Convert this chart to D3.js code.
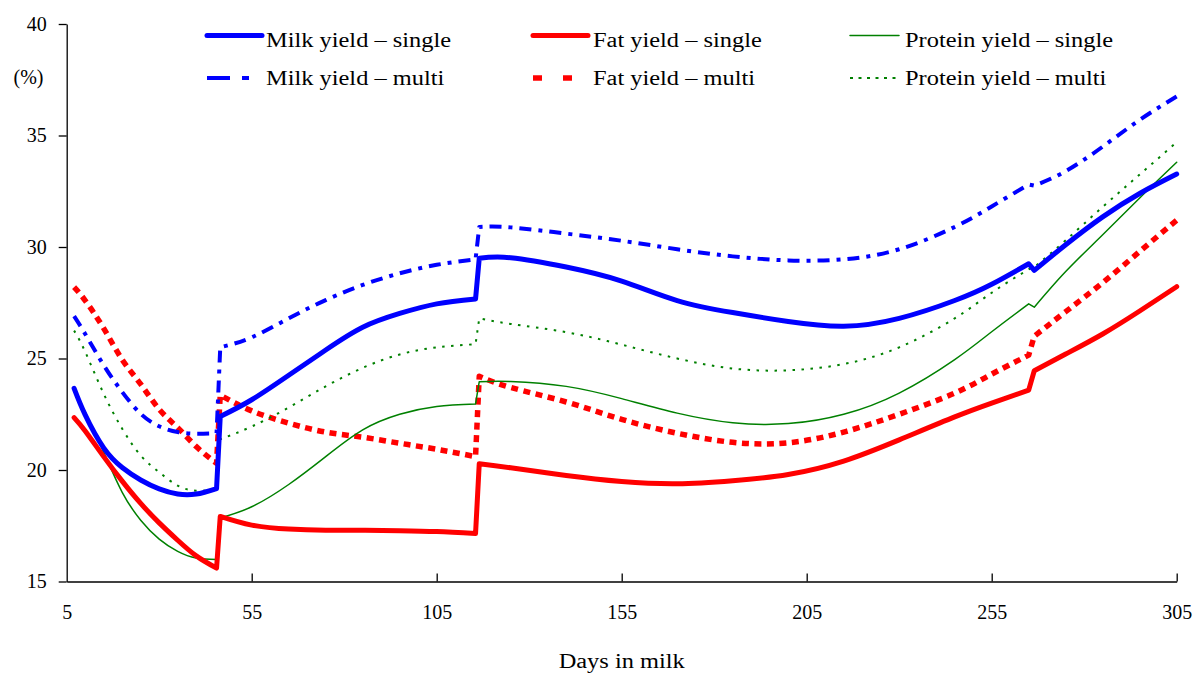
<!DOCTYPE html>
<html>
<head>
<meta charset="utf-8">
<script src="https://cdn.jsdelivr.net/npm/d3@7"></script>
<style>
  body { margin: 0; background: #fff; }
  svg { display: block; }
  text { font-family: "Liberation Serif", "DejaVu Serif", serif; font-size: 20px; fill: #000; }
</style>
</head>
<body>
<svg id="chart" width="1203" height="673"></svg>
<script>
// Days in milk; the paired days mark the steps between recording periods
const days = [7, 10, 15, 20, 25, 30, 35, 40, 45.5, 46.5, 55, 65, 75, 85, 95, 105, 115.5, 116.5,
  125, 140, 155, 170, 185, 200, 215, 230, 245, 255, 265, 266.5, 275, 285, 295, 305];
// Index where each recording period starts
const periodStarts = [0, 9, 17, 29];

// Percentages per trait and model
const milkSingle = [23.66, 22.47, 20.99, 20.11, 19.55, 19.15, 18.92, 18.92, 19.17, 22.4, 23.15, 24.25, 25.38, 26.4, 27.02, 27.45, 27.67, 29.5,
  29.52, 29.1, 28.47, 27.6, 27.06, 26.66, 26.45, 26.8, 27.6, 28.33, 29.25, 28.95, 30.1, 31.35, 32.4, 33.27];
const milkMulti = [26.9, 26.1, 24.7, 23.5, 22.52, 21.96, 21.7, 21.63, 21.65, 25.5, 25.95, 26.8, 27.62, 28.3, 28.82, 29.2, 29.45, 30.9,
  30.88, 30.6, 30.28, 29.9, 29.58, 29.4, 29.45, 29.9, 30.9, 31.82, 32.8, 32.75, 33.4, 34.5, 35.7, 36.75];
const fatSingle = [22.35, 21.75, 20.6, 19.5, 18.5, 17.63, 16.85, 16.15, 15.6, 17.92, 17.53, 17.35, 17.3, 17.3, 17.28, 17.24, 17.15, 20.28,
  20.1, 19.75, 19.48, 19.38, 19.52, 19.8, 20.4, 21.35, 22.38, 23.0, 23.58, 24.45, 25.2, 26.1, 27.13, 28.22];
const fatMulti = [28.2, 27.6, 26.35, 24.95, 23.85, 22.72, 21.9, 21.05, 20.3, 23.36, 22.65, 22.1, 21.7, 21.47, 21.2, 20.93, 20.6, 24.2,
  23.7, 23.05, 22.27, 21.65, 21.24, 21.22, 21.7, 22.5, 23.45, 24.3, 25.15, 26.0, 27.1, 28.4, 29.8, 31.2];
const proteinSingle = [23.6, 22.6, 20.8, 19.0, 17.75, 16.9, 16.35, 16.05, 15.99, 17.85, 18.35, 19.35, 20.6, 21.8, 22.5, 22.85, 22.96, 23.96,
  23.97, 23.75, 23.2, 22.55, 22.12, 22.08, 22.5, 23.45, 24.95, 26.2, 27.45, 27.3, 28.9, 30.55, 32.2, 33.8];
const proteinMulti = [26.25, 25.3, 23.42, 21.85, 20.65, 19.9, 19.3, 19.07, 19.13, 21.38, 21.95, 22.8, 23.75, 24.58, 25.18, 25.5, 25.64, 26.8,
  26.55, 26.18, 25.62, 25.0, 24.55, 24.47, 24.75, 25.5, 26.8, 27.95, 29.0, 29.1, 30.3, 31.8, 33.25, 34.7];

const xTicks = [5, 55, 105, 155, 205, 255, 305];
const yTicks = [15, 20, 25, 30, 35, 40];

const seriesNames = ["Milk yield – single", "Fat yield – single", "Protein yield – single",
  "Milk yield – multi", "Fat yield – multi", "Protein yield – multi"];

const series = [
  { name: seriesNames[0], values: milkSingle,    color: "#0000ff", width: 5,   dash: null,       legendDash: null,         row: 0, col: 0 },
  { name: seriesNames[1], values: fatSingle,     color: "#ff0000", width: 5,   dash: null,       legendDash: null,         row: 0, col: 1 },
  { name: seriesNames[2], values: proteinSingle, color: "#008000", width: 1.5, dash: null,       legendDash: null,         row: 0, col: 2 },
  { name: seriesNames[3], values: milkMulti,     color: "#0000ff", width: 4,   dash: "12,7,4,7", legendDash: "23,12,7,13", row: 1, col: 0 },
  { name: seriesNames[4], values: fatMulti,      color: "#ff0000", width: 5.5, dash: "7,5.5",    legendDash: "9,21",       row: 1, col: 1 },
  { name: seriesNames[5], values: proteinMulti,  color: "#008000", width: 2,   dash: "2.5,6.5",  legendDash: "3,5.5",      row: 1, col: 2 }
];

const svg = d3.select("#chart");

const x = d3.scaleLinear().domain([5, 305]).range([66.7, 1176.7]);
const y = d3.scaleLinear().domain([15, 40]).range([581.5, 24]);

// Axes
const yAxis = svg.append("g")
  .attr("transform", `translate(${x(5)},0)`)
  .call(d3.axisLeft(y).tickValues(yTicks).tickSize(8).tickSizeOuter(0).tickPadding(12));

const xAxis = svg.append("g")
  .attr("transform", `translate(0,${y(15)})`)
  .call(d3.axisBottom(x).tickValues(xTicks).tickSizeInner(-8).tickSizeOuter(0).tickPadding(32));

[yAxis, xAxis].forEach(g => {
  g.attr("font-family", null).attr("font-size", null);
  g.selectAll("path, line").attr("stroke", "#000").attr("stroke-width", 1.3);
});
xAxis.selectAll(".tick").filter(d => d === 5).select("line").remove();
xAxis.selectAll(".tick text").attr("dy", "0.25em");

svg.append("text").attr("x", 43.5).attr("y", 84).attr("text-anchor", "end").text("(%)");
svg.append("text")
  .attr("class", "wide")
  .attr("x", (x(5) + x(305)) / 2).attr("y", 668)
  .attr("text-anchor", "middle")
  .text("Days in milk");

// Each recording period is a smooth curve; consecutive periods are joined by a straight step
const curve = d3.line()
  .x(d => x(d[0]))
  .y(d => y(d[1]))
  .curve(d3.curveNatural);

function periodPath(values) {
  const pts = days.map((d, i) => [d, values[i]]);
  return periodStarts.map((start, k) => {
    const end = k + 1 < periodStarts.length ? periodStarts[k + 1] : pts.length;
    const seg = curve(pts.slice(start, end));
    return k === 0 ? seg : "L" + seg.slice(1);
  }).join("");
}

const drawOrder = [4, 3, 5, 2, 1, 0];
svg.append("g").selectAll("path")
  .data(drawOrder.map(i => series[i]))
  .join("path")
  .attr("d", s => periodPath(s.values))
  .attr("fill", "none")
  .attr("stroke", s => s.color)
  .attr("stroke-width", s => s.width)
  .attr("stroke-dasharray", s => s.dash)
  .attr("stroke-linejoin", "round")
  .attr("stroke-linecap", s => s.dash ? "butt" : "round");

// Legend: three columns, two rows
const legendCols = [{ x0: 207, x1: 262, tx: 266 }, { x0: 533, x1: 588, tx: 593 }, { x0: 850, x1: 899, tx: 905 }];
const legendRows = [{ ly: 35.5, ty: 46.5 }, { ly: 78, ty: 85 }];

const legend = svg.append("g").selectAll("g")
  .data(series)
  .join("g");

legend.append("line")
  .attr("x1", s => legendCols[s.col].x0)
  .attr("x2", s => legendCols[s.col].x1)
  .attr("y1", s => legendRows[s.row].ly)
  .attr("y2", s => legendRows[s.row].ly)
  .attr("stroke", s => s.color)
  .attr("stroke-width", s => s.width)
  .attr("stroke-dasharray", s => s.legendDash)
  .attr("stroke-linecap", s => s.legendDash ? "butt" : "round");

legend.append("text")
  .attr("class", "wide")
  .attr("x", s => legendCols[s.col].tx)
  .attr("y", s => legendRows[s.row].ty)
  .text(s => s.name);

// Widen word labels to the proportions of a broad book face
svg.selectAll("text.wide").each(function () {
  const len = this.getComputedTextLength();
  d3.select(this).attr("textLength", len * 1.22).attr("lengthAdjust", "spacingAndGlyphs");
});
</script>
</body>
</html>
